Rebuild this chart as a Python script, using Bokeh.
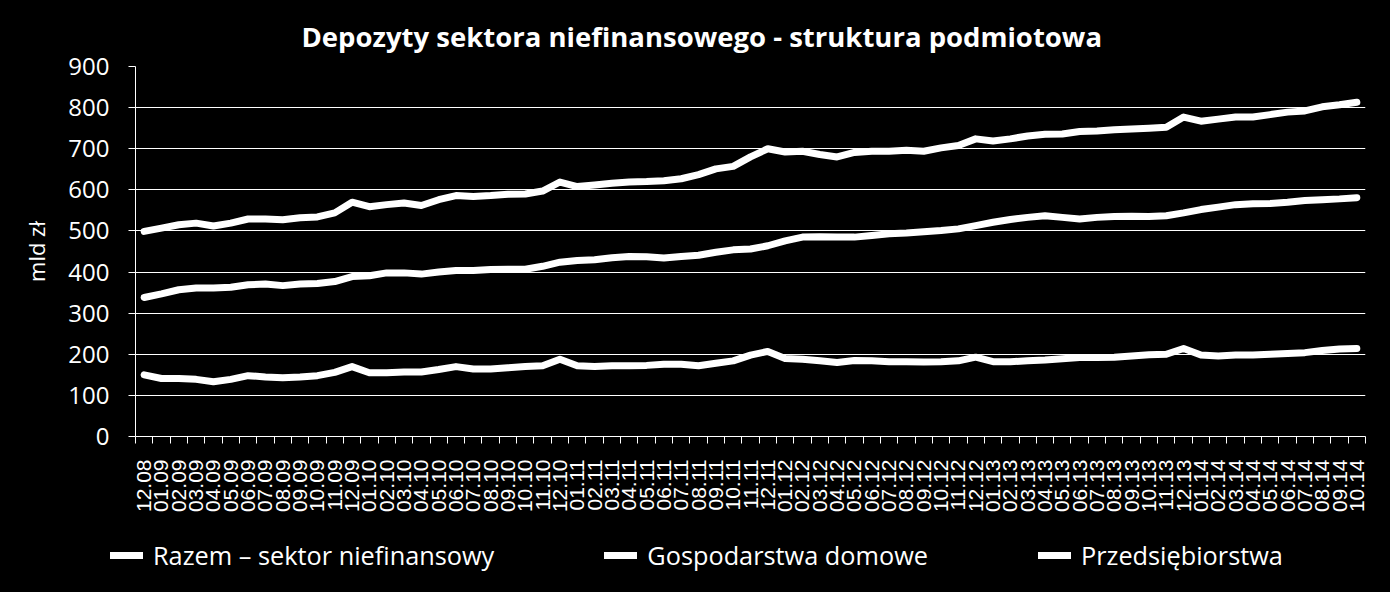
import math
from bokeh.plotting import figure
from bokeh.models import Range1d, FixedTicker, Legend, LegendItem
from bokeh.embed import file_html
from bokeh.resources import INLINE

# ---- data -------------------------------------------------------------
months = [
    "12.08",
    "01.09", "02.09", "03.09", "04.09", "05.09", "06.09", "07.09", "08.09", "09.09", "10.09", "11.09", "12.09",
    "01.10", "02.10", "03.10", "04.10", "05.10", "06.10", "07.10", "08.10", "09.10", "10.10", "11.10", "12.10",
    "01.11", "02.11", "03.11", "04.11", "05.11", "06.11", "07.11", "08.11", "09.11", "10.11", "11.11", "12.11",
    "01.12", "02.12", "03.12", "04.12", "05.12", "06.12", "07.12", "08.12", "09.12", "10.12", "11.12", "12.12",
    "01.13", "02.13", "03.13", "04.13", "05.13", "06.13", "07.13", "08.13", "09.13", "10.13", "11.13", "12.13",
    "01.14", "02.14", "03.14", "04.14", "05.14", "06.14", "07.14", "08.14", "09.14", "10.14",
]

razem = [
    499, 507, 515, 519, 512, 519, 529, 529, 527, 532, 534, 544, 570,
    559, 564, 568, 562, 576, 586, 584, 586, 589, 590, 597, 619,
    608, 612, 616, 619, 620, 622, 627, 637, 651, 657, 680, 700,
    692, 694, 686, 680, 691, 694, 694, 696, 694, 702, 708, 724,
    719, 724, 731, 735, 736, 742, 743, 746, 748, 750, 752, 777,
    767, 772, 777, 777, 783, 789, 792, 802, 807, 813,
]

gospodarstwa = [
    338, 347, 357, 361, 361, 363, 369, 371, 367, 371, 372, 377, 389,
    391, 398, 398, 395, 400, 404, 404, 406, 407, 407, 414, 424,
    428, 430, 435, 438, 437, 434, 438, 441, 448, 454, 456, 464,
    476, 485, 486, 485, 485, 489, 493, 495, 498, 501, 505, 513,
    521, 528, 533, 537, 533, 529, 533, 535, 536, 535, 537, 544,
    552, 558, 564, 566, 567, 570, 574, 576, 578, 581,
]

przedsiebiorstwa = [
    150, 141, 141, 139, 133, 139, 148, 145, 143, 145, 148, 156, 170,
    155, 155, 157, 157, 163, 170, 164, 164, 167, 170, 172, 188,
    172, 170, 172, 172, 173, 176, 176, 172, 178, 184, 198, 207,
    190, 188, 184, 180, 185, 184, 182, 182, 181, 182, 184, 193,
    182, 182, 184, 186, 189, 192, 192, 193, 196, 199, 200, 214,
    198, 196, 198, 198, 200, 202, 204, 209, 213, 214,
]

series_names = ["Razem \u2013 sektor niefinansowy", "Gospodarstwa domowe", "Przedsi\u0119biorstwa"]
y_ticks = [0, 100, 200, 300, 400, 500, 600, 700, 800, 900]
title_text = "Depozyty sektora niefinansowego - struktura podmiotowa"
y_label = "mld z\u0142"

LINE_STYLE = dict(line_color="white", line_width=7, line_join="round", line_cap="round")

# ---- main chart ---------------------------------------------------------
n = len(months)
x_centers = [i + 0.5 for i in range(n)]
x_bounds = [float(i) for i in range(n + 1)]

p = figure(
    width=1390, height=520,
    x_range=Range1d(0, n), y_range=Range1d(0, 900),
    output_backend="svg", toolbar_location=None,
    background_fill_color="black", border_fill_color="black",
    min_border_left=135, min_border_right=25,
    min_border_top=66, min_border_bottom=84,
)
p.outline_line_color = None
p.styles = {"background-color": "black"}

p.title.text = title_text
p.title.text_color = "white"
p.title.text_font = "Open Sans"
p.title.text_font_style = "bold"
p.title.text_font_size = "27.5px"
p.title.align = "left"
p.title.offset = 166
p.title.standoff = 24

p.xgrid.visible = False
p.ygrid.grid_line_color = "white"
p.ygrid.grid_line_width = 1
p.ygrid.ticker = FixedTicker(ticks=y_ticks)

ya = p.yaxis[0]
ya.ticker = FixedTicker(ticks=y_ticks)
ya.axis_line_color = "white"
ya.major_tick_line_color = "white"
ya.major_tick_out = 7
ya.major_tick_in = 0
ya.minor_tick_line_color = None
ya.major_label_text_color = "white"
ya.major_label_text_font = "Open Sans"
ya.major_label_text_font_size = "24px"
ya.major_label_standoff = 19
ya.axis_label = y_label
ya.axis_label_text_color = "white"
ya.axis_label_text_font = "Open Sans"
ya.axis_label_text_font_size = "22px"
ya.axis_label_text_font_style = "normal"
ya.axis_label_standoff = 14

xa = p.xaxis[0]
xa.ticker = FixedTicker(ticks=x_centers, minor_ticks=x_bounds)
xa.major_label_overrides = {c: m for c, m in zip(x_centers, months)}
xa.axis_line_color = "white"
xa.major_tick_line_color = None
xa.major_tick_out = 0
xa.major_tick_in = 0
xa.minor_tick_line_color = "white"
xa.minor_tick_out = 7
xa.minor_tick_in = 0
xa.major_label_orientation = math.pi / 2
xa.major_label_text_color = "white"
xa.major_label_text_font = "Liberation Sans"
xa.major_label_text_font_size = "21px"
xa.major_label_standoff = 16

series = (razem, gospodarstwa, przedsiebiorstwa)
for vals in series:
    p.line(x_centers, vals, **LINE_STYLE)

# ---- legend strip (separate root, frame spans the whole strip) -----------
pl = figure(
    width=1390, height=72,
    x_range=Range1d(0, 1), y_range=Range1d(-2, -1),
    output_backend="svg", toolbar_location=None,
    background_fill_color="black", border_fill_color="black",
    min_border_left=0, min_border_right=0, min_border_top=0, min_border_bottom=0,
)
pl.outline_line_color = None
pl.styles = {"background-color": "black"}
pl.xaxis.visible = False
pl.yaxis.visible = False
pl.xgrid.visible = False
pl.ygrid.visible = False

# the same series, drawn outside this strip's visible range; used only as legend keys
keys = [pl.line(x_centers, vals, **LINE_STYLE) for vals in series]

legend = Legend(
    items=[LegendItem(label=nm, renderers=[r]) for nm, r in zip(series_names, keys)],
    orientation="horizontal",
    location=(110, 20),
    spacing=110,
    glyph_width=33,
    glyph_height=20,
    label_standoff=10,
    padding=0,
    margin=0,
    border_line_alpha=0,
    background_fill_alpha=0,
    label_text_color="white",
    label_text_font="Open Sans",
    label_text_font_size="25.3px",
)
pl.add_layout(legend, "center")

html = file_html([p, pl], INLINE)
html = html.replace("<body>", '<body style="margin:0;background:black;">', 1)
open("out.html", "w").write(html)
